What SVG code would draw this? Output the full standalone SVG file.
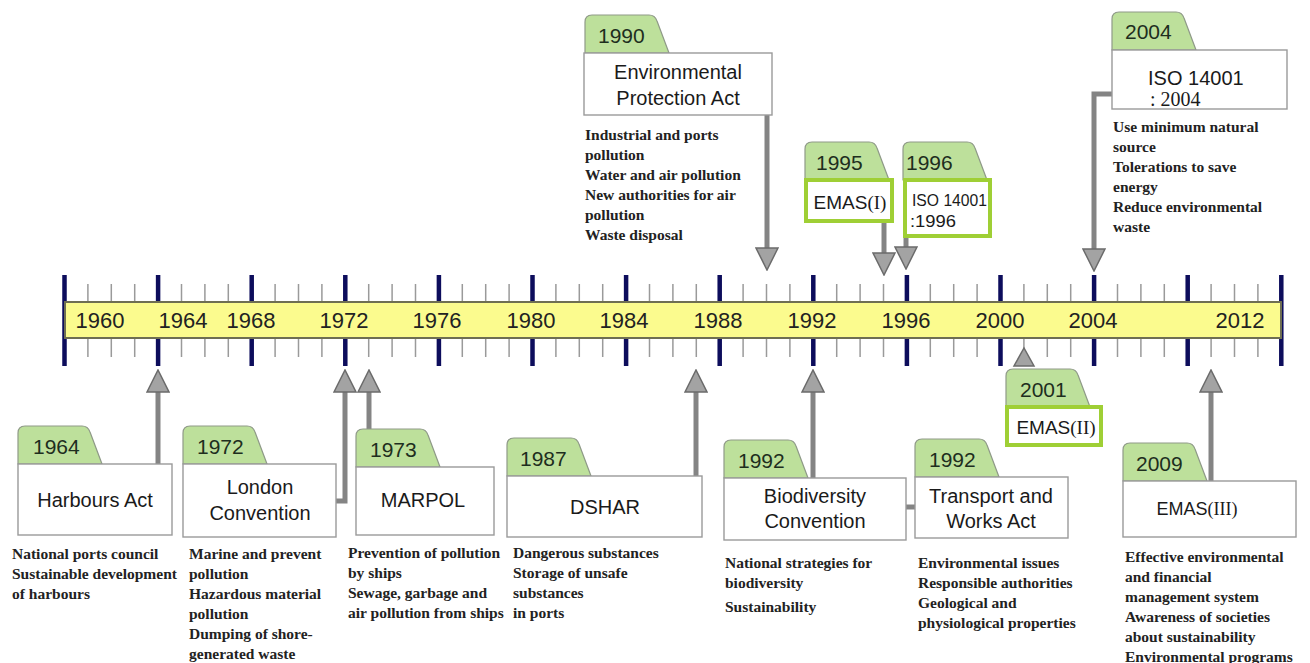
<svg xmlns="http://www.w3.org/2000/svg" xmlns:xlink="http://www.w3.org/1999/xlink" width="1310" height="663" viewBox="0 0 1310 663">
<style>
.bg{fill:#ffffff}
.bar{fill:#fbfb8e;stroke:#6e6e52;stroke-width:2}
.major{stroke:#0d0d5c;stroke-width:4.5;fill:none}
.minor{stroke:#9a9a9a;stroke-width:1.5;fill:none}
.yr{font-family:"Liberation Sans",Arial,sans-serif;font-size:22px;fill:#222;text-anchor:middle}
.tab{fill:#bde09b;stroke:#8f9a88;stroke-width:1.2}
.box{fill:#ffffff;stroke:#9a9a9a;stroke-width:1.4}
.gbox{fill:#ffffff;stroke:#9fcf35;stroke-width:4}
.tabt{font-family:"Liberation Sans",Arial,sans-serif;font-size:21px;fill:#1e2e1e}
.lbl{font-family:"Liberation Sans",Arial,sans-serif;font-size:20px;fill:#1a1a1a;text-anchor:middle}
.lbl2{font-family:"Liberation Sans",Arial,sans-serif;font-size:20px;fill:#1a1a1a}
.ser{font-family:"Liberation Serif","Times New Roman",serif}
.desc{font-family:"Liberation Serif","Times New Roman",serif;font-weight:bold;font-size:15.5px;fill:#222}
.sh{fill:none;stroke:#848484;stroke-width:5}
.head{fill:#a3a3a3;stroke:#6b6b6b;stroke-width:1.5}
</style>
<defs>
<path id="tab" d="M0,38 V7 Q0,0 7,0 H64 Q70,0 72,6 L84,38 Z"/>
<marker id="ah" markerUnits="userSpaceOnUse" markerWidth="24" markerHeight="24" viewBox="0 0 24 24" refX="1" refY="12" orient="auto">
<path d="M1,1 L23,12 L1,23 Z" fill="#a3a3a3" stroke="#6b6b6b" stroke-width="1.5"/>
</marker>
</defs>
<rect class="bg" x="0" y="0" width="1310" height="663"/>

<g id="timeline">
<path class="minor" d="M87.9,284V357M111.3,284V357M134.7,284V357M181.5,284V357M204.9,284V357M228.3,284V357M275.1,284V357M298.5,284V357M321.9,284V357M368.7,284V357M392.1,284V357M415.5,284V357M462.3,284V357M485.7,284V357M509.1,284V357M555.9,284V357M579.3,284V357M602.7,284V357M649.5,284V357M672.9,284V357M696.3,284V357M743.1,284V357M766.5,284V357M789.9,284V357M836.7,284V357M860.1,284V357M883.5,284V357M930.3,284V357M953.7,284V357M977.1,284V357M1023.9,284V357M1047.3,284V357M1070.7,284V357M1117.5,284V357M1140.9,284V357M1164.3,284V357M1211.1,284V357M1234.5,284V357M1257.9,284V357"/>
<path class="major" d="M64.5,275V366M158.1,275V366M251.7,275V366M345.3,275V366M438.9,275V366M532.5,275V366M626.1,275V366M719.7,275V366M813.3,275V366M906.9,275V366M1000.5,275V366M1094.1,275V366M1187.7,275V366M1281.3,275V366"/>
<rect class="bar" x="65" y="302" width="1216" height="36"/>
<text class="yr" x="100" y="328">1960</text>
<text class="yr" x="183" y="328">1964</text>
<text class="yr" x="251" y="328">1968</text>
<text class="yr" x="344" y="328">1972</text>
<text class="yr" x="437" y="328">1976</text>
<text class="yr" x="531" y="328">1980</text>
<text class="yr" x="624" y="328">1984</text>
<text class="yr" x="718" y="328">1988</text>
<text class="yr" x="812" y="328">1992</text>
<text class="yr" x="906" y="328">1996</text>
<text class="yr" x="1000" y="328">2000</text>
<text class="yr" x="1093" y="328">2004</text>
<text class="yr" x="1240" y="328">2012</text>
</g>

<g id="connectors">
<path class="sh" marker-end="url(#ah)" d="M158,464V392"/>
<path class="sh" marker-end="url(#ah)" d="M336,501H345V392"/>
<path class="sh" marker-end="url(#ah)" d="M369,429V392"/>
<path class="sh" marker-end="url(#ah)" d="M696,476V392"/>
<path class="sh" marker-end="url(#ah)" d="M813,478V392"/>
<path class="sh" marker-end="url(#ah)" d="M1211,481V392"/>
<path class="sh" marker-end="url(#ah)" d="M767,115V248"/>
<path class="sh" marker-end="url(#ah)" d="M884,222V253"/>
<path class="sh" marker-end="url(#ah)" d="M906,237V247"/>
<path class="sh" marker-end="url(#ah)" d="M1112,94H1094V249"/>
<path class="sh" d="M906,507H915"/>
<polygon class="head" points="1014,366 1034,366 1024,348"/>
</g>

<g id="n1990">
<use href="#tab" class="tab" x="585" y="15"/>
<text class="tabt" x="598" y="43">1990</text>
<rect class="box" x="584" y="53" width="188" height="62"/>
<text class="lbl" x="678" y="79">Environmental</text>
<text class="lbl" x="678" y="105">Protection Act</text>
<text class="desc" x="585" y="140"><tspan x="585">Industrial and ports</tspan><tspan x="585" dy="20">pollution</tspan><tspan x="585" dy="20">Water and air pollution</tspan><tspan x="585" dy="20">New authorities for air</tspan><tspan x="585" dy="20">pollution</tspan><tspan x="585" dy="20">Waste disposal</tspan></text>
</g>

<g id="n1995">
<use href="#tab" class="tab" x="805" y="142"/>
<text class="tabt" x="816" y="170">1995</text>
<rect class="gbox" x="806" y="180" width="86" height="41"/>
<text class="lbl" x="850" y="209" style="font-size:19px">EMAS<tspan class="ser">(I)</tspan></text>
</g>

<g id="n1996">
<use href="#tab" class="tab" x="903" y="142"/>
<text class="tabt" x="906" y="170">1996</text>
<rect class="gbox" x="905" y="180" width="85" height="56"/>
<text class="lbl2" x="912" y="206" style="font-size:17px" textLength="75" lengthAdjust="spacingAndGlyphs">ISO 14001</text>
<text class="lbl2" x="910" y="227" style="font-size:17px" textLength="46" lengthAdjust="spacingAndGlyphs">:1996</text>
</g>

<g id="n2004">
<use href="#tab" class="tab" x="1112" y="12"/>
<text class="tabt" x="1125" y="39">2004</text>
<rect class="box" x="1112" y="50" width="175" height="59"/>
<text class="lbl2" x="1148" y="85">ISO 14001</text>
<text class="lbl2 ser" x="1150" y="106">: 2004</text>
<text class="desc" x="1113" y="132"><tspan x="1113">Use minimum natural</tspan><tspan x="1113" dy="20">source</tspan><tspan x="1113" dy="20">Tolerations to save</tspan><tspan x="1113" dy="20">energy</tspan><tspan x="1113" dy="20">Reduce environmental</tspan><tspan x="1113" dy="20">waste</tspan></text>
</g>

<g id="n1964">
<use href="#tab" class="tab" x="18" y="426"/>
<text class="tabt" x="33" y="454">1964</text>
<rect class="box" x="18" y="464" width="154" height="71"/>
<text class="lbl" x="95" y="507">Harbours Act</text>
<text class="desc" x="12" y="559"><tspan x="12">National ports council</tspan><tspan x="12" dy="20">Sustainable development</tspan><tspan x="12" dy="20">of harbours</tspan></text>
</g>

<g id="n1972">
<use href="#tab" class="tab" x="183" y="426"/>
<text class="tabt" x="197" y="454">1972</text>
<rect class="box" x="183" y="464" width="153" height="73"/>
<text class="lbl" x="260" y="494">London</text>
<text class="lbl" x="260" y="520">Convention</text>
<text class="desc" x="189" y="559"><tspan x="189">Marine and prevent</tspan><tspan x="189" dy="20">pollution</tspan><tspan x="189" dy="20">Hazardous material</tspan><tspan x="189" dy="20">pollution</tspan><tspan x="189" dy="20">Dumping of shore-</tspan><tspan x="189" dy="20">generated waste</tspan></text>
</g>

<g id="n1973">
<use href="#tab" class="tab" x="356" y="429"/>
<text class="tabt" x="370" y="457">1973</text>
<rect class="box" x="356" y="467" width="138" height="68"/>
<text class="lbl" x="423" y="507">MARPOL</text>
<text class="desc" x="348" y="558"><tspan x="348">Prevention of pollution</tspan><tspan x="348" dy="20">by ships</tspan><tspan x="348" dy="20">Sewage, garbage and</tspan><tspan x="348" dy="20">air pollution from ships</tspan></text>
</g>

<g id="n1987">
<use href="#tab" class="tab" x="507" y="438"/>
<text class="tabt" x="520" y="466">1987</text>
<rect class="box" x="507" y="476" width="195" height="61"/>
<text class="lbl" x="605" y="514">DSHAR</text>
<text class="desc" x="513" y="558"><tspan x="513">Dangerous substances</tspan><tspan x="513" dy="20">Storage of unsafe</tspan><tspan x="513" dy="20">substances</tspan><tspan x="513" dy="20">in ports</tspan></text>
</g>

<g id="n1992a">
<use href="#tab" class="tab" x="724" y="440"/>
<text class="tabt" x="738" y="468">1992</text>
<rect class="box" x="724" y="478" width="182" height="62"/>
<text class="lbl" x="815" y="503">Biodiversity</text>
<text class="lbl" x="815" y="528">Convention</text>
<text class="desc" x="725" y="568"><tspan x="725">National strategies for</tspan><tspan x="725" dy="20">biodiversity</tspan><tspan x="725" dy="24">Sustainability</tspan></text>
</g>

<g id="n1992b">
<use href="#tab" class="tab" x="915" y="439"/>
<text class="tabt" x="929" y="467">1992</text>
<rect class="box" x="915" y="477" width="153" height="61"/>
<text class="lbl" x="991" y="503">Transport and</text>
<text class="lbl" x="991" y="528">Works Act</text>
<text class="desc" x="918" y="568"><tspan x="918">Environmental issues</tspan><tspan x="918" dy="20">Responsible authorities</tspan><tspan x="918" dy="20">Geological and</tspan><tspan x="918" dy="20">physiological properties</tspan></text>
</g>

<g id="n2001">
<use href="#tab" class="tab" x="1006" y="369"/>
<text class="tabt" x="1020" y="397">2001</text>
<rect class="gbox" x="1007" y="407" width="94" height="38"/>
<text class="lbl" x="1056" y="434" style="font-size:19px">EMAS<tspan class="ser">(II)</tspan></text>
</g>

<g id="n2009">
<use href="#tab" class="tab" x="1123" y="443"/>
<text class="tabt" x="1136" y="471">2009</text>
<rect class="box" x="1123" y="481" width="173" height="56"/>
<text class="lbl" x="1197" y="515" style="font-size:18px">EMAS<tspan class="ser">(III)</tspan></text>
<text class="desc" x="1125" y="562"><tspan x="1125">Effective environmental</tspan><tspan x="1125" dy="20">and financial</tspan><tspan x="1125" dy="20">management system</tspan><tspan x="1125" dy="20">Awareness of societies</tspan><tspan x="1125" dy="20">about sustainability</tspan><tspan x="1125" dy="20">Environmental programs</tspan></text>
</g>
</svg>
